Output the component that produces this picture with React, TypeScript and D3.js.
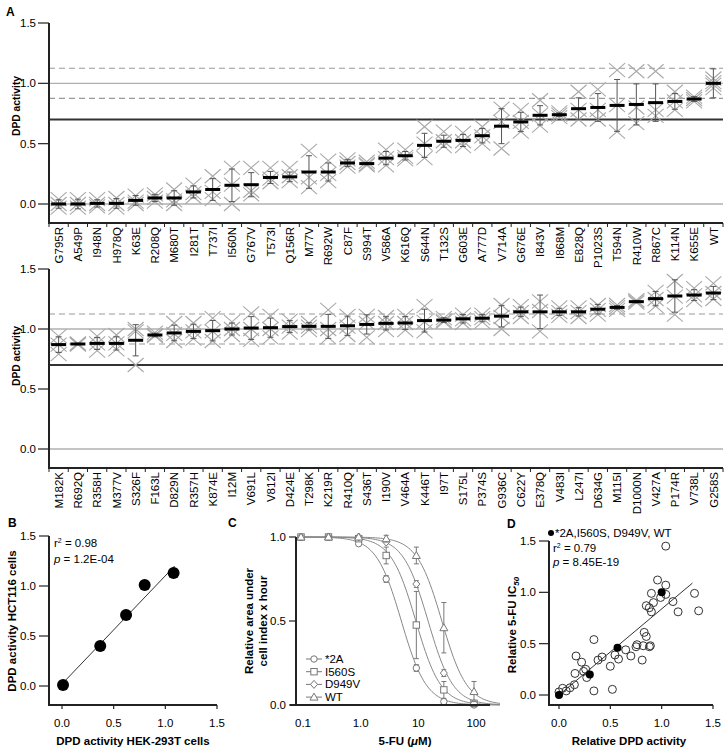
import React from 'react';
import * as d3 from 'd3';

// ---------- Panel A data ----------
const catsTop = ['G795R','A549P','I948N','H978Q','K63E','R208Q','M680T','I281T','T737I','I560N','G767V','T573I','Q156R','M77V','R692W','C87F','S994T','V586A','K616Q','S644N','T132S','G603E','A777D','V714A','G676E','I843V','I868M','E828Q','P1023S','T594N','R410W','R867C','K114N','K655E','WT'];
const meanTop = [0.0,0.0,0.005,0.005,0.03,0.05,0.05,0.10,0.12,0.155,0.16,0.22,0.225,0.265,0.265,0.34,0.335,0.38,0.40,0.486,0.52,0.527,0.566,0.645,0.68,0.735,0.74,0.79,0.80,0.817,0.825,0.84,0.85,0.87,1.0];
const sdTop = [0.035,0.04,0.03,0.04,0.04,0.03,0.06,0.05,0.09,0.135,0.1,0.05,0.04,0.135,0.075,0.03,0.01,0.055,0.035,0.1,0.05,0.05,0.06,0.145,0.08,0.08,0.015,0.09,0.115,0.215,0.17,0.155,0.065,0.02,0.12];
const repsTop = [
  [-0.03,0.0,0.04],[-0.03,0.0,0.04],[-0.02,0.0,0.04],[-0.03,0.0,0.05],[0.0,0.02,0.07],
  [0.02,0.05,0.08],[0.0,0.03,0.12],[0.06,0.09,0.16],[0.04,0.1,0.23],[0.0,0.16,0.3],
  [0.08,0.11,0.3],[0.18,0.21,0.3],[0.19,0.23,0.3],[0.14,0.22,0.44],[0.19,0.25,0.36],
  [0.31,0.34,0.37],[0.32,0.33,0.35],[0.32,0.38,0.45],[0.37,0.39,0.45],[0.38,0.5,0.64],
  [0.48,0.52,0.6],[0.48,0.52,0.59],[0.5,0.56,0.64],[0.46,0.68,0.79],[0.6,0.68,0.78],
  [0.65,0.74,0.86],[0.72,0.74,0.76],[0.7,0.78,0.93],[0.7,0.78,0.95],[0.6,0.82,1.11],
  [0.67,0.8,1.1],[0.73,0.78,1.1],[0.78,0.85,0.93],[0.85,0.87,0.89],[0.96,0.99,1.01,1.04]
];

const catsBot = ['M182K','R692Q','R358H','M377V','S326F','F163L','D829N','R357H','K874E','I12M','V691L','V812I','D424E','T298K','K219R','R410Q','S436T','I190V','V464A','K446T','I97T','S175L','P374S','G936C','C622Y','E378Q','V483I','L247I','D634G','M115I','D1000N','V427A','P174R','V738L','G258S'];
const meanBot = [0.87,0.875,0.88,0.88,0.906,0.95,0.967,0.98,0.986,1.0,1.008,1.011,1.02,1.022,1.022,1.027,1.038,1.047,1.05,1.07,1.074,1.085,1.09,1.107,1.143,1.143,1.143,1.143,1.165,1.18,1.228,1.253,1.275,1.283,1.30];
const sdBot = [0.065,0.005,0.05,0.055,0.13,0.015,0.065,0.06,0.085,0.05,0.095,0.08,0.05,0.03,0.1,0.08,0.08,0.055,0.055,0.095,0.02,0.035,0.03,0.09,0.04,0.14,0.03,0.035,0.04,0.015,0.01,0.06,0.135,0.045,0.055];
const repsBot = [
  [0.79,0.87,0.94],[0.87,0.875,0.88],[0.82,0.88,0.94],[0.83,0.88,0.95],[0.7,0.98,1.0],
  [0.94,0.95,0.97],[0.9,0.96,1.05],[0.92,0.98,1.05],[0.9,0.98,1.09],[0.95,1.0,1.06],
  [0.91,1.0,1.13],[0.93,1.0,1.11],[0.97,1.02,1.07],[0.99,1.02,1.05],[0.93,1.0,1.16],
  [0.95,1.02,1.11],[0.93,1.05,1.11],[0.99,1.05,1.1],[0.99,1.05,1.11],[0.98,1.06,1.19],
  [1.06,1.07,1.09],[1.05,1.08,1.12],[1.06,1.09,1.12],[1.0,1.1,1.2],[1.1,1.14,1.19],
  [0.98,1.15,1.23],[1.11,1.14,1.18],[1.1,1.14,1.18],[1.12,1.16,1.2],[1.16,1.18,1.2],
  [1.22,1.23,1.24],[1.19,1.25,1.31],[1.12,1.27,1.4],[1.24,1.28,1.34],[1.25,1.3,1.38]
];

const yTicksA = [0, 0.5, 1.0, 1.5];
const refDashed = [0.875, 1.125];
const refGrey = [0.0, 1.0];
const refCutoff = [0.7];

// ---------- Panel B data ----------
const bX = [0.01, 0.37, 0.62, 0.80, 1.08];
const bY = [0.01, 0.40, 0.71, 1.01, 1.13];
const bFitX = [0.0, 1.09];
const bFitY = [0.02, 1.2];
const bTicks = [0, 0.5, 1.0, 1.5];

// ---------- Panel C data ----------
const cConc = [0.1, 0.3, 1, 3, 10, 30, 100];
const cNames = ['*2A', 'I560S', 'D949V', 'WT'];
const c2A = [1.0, 1.0, 0.96, 0.75, 0.22, 0.02, 0.0];
const cI560S = [1.0, 1.0, 0.99, 0.89, 0.476, 0.09, 0.01];
const cD949V = [1.0, 1.0, 1.0, 0.97, 0.72, 0.19, 0.01];
const cWT = [1.0, 1.0, 1.0, 0.99, 0.89, 0.46, 0.08];
const e2A = [0, 0, 0.01, 0.02, 0.02, 0.01, 0];
const eI560S = [0, 0, 0, 0.05, 0.2, 0.05, 0.01];
const eD949V = [0, 0, 0, 0.01, 0.02, 0.02, 0.01];
const eWT = [0, 0, 0, 0.02, 0.05, 0.15, 0.06];
const cIC50 = [5.5, 9.8, 16, 27.7];
const cHill = [2, 2, 2, 2];
const cXTicks = [0.1, 1, 10, 100];
const cXTickLabels = ['0.1', '1.0', '10', '100'];
const cYTicks = [0, 0.5, 1.0];

// ---------- Panel D data ----------
const dOpenX = [0.0,0.035,0.07,0.107,0.15,0.166,0.156,0.22,0.24,0.26,0.27,0.34,0.34,0.38,0.42,0.50,0.52,0.545,0.58,0.65,0.70,0.75,0.76,0.81,0.82,0.83,0.85,0.88,0.89,0.85,0.88,0.90,0.90,0.92,0.96,0.99,1.04,1.04,1.11,1.16,1.32,1.36,1.04];
const dOpenY = [0.03,0.065,0.04,0.07,0.10,0.38,0.21,0.32,0.23,0.25,0.17,0.54,0.04,0.34,0.37,0.28,0.055,0.39,0.35,0.44,0.38,0.47,0.49,0.34,0.48,0.61,0.57,0.47,0.48,0.87,0.85,0.99,0.81,0.90,1.12,0.95,1.07,0.98,0.91,0.81,0.99,0.82,1.45];
const dFilledX = [0.0, 0.30, 0.57, 1.0];
const dFilledY = [0.0, 0.20, 0.46, 1.0];
const dFitX = [0.0, 1.3];
const dFitY = [0.0, 1.09];
const dTicks = [0, 0.5, 1.0, 1.5];

const FONT = '"Liberation Sans", Arial, Helvetica, sans-serif';
const fmt = d3.format('.1f');
const FS = 11.5;

function ActivityPanel({ cats, means, sds, reps, top, zeroY, axisY, labelY }: any) {
  const x = d3.scaleBand().domain(cats).range([49, 723]);
  const y = d3.scaleLinear().domain([0, 1.5]).range([zeroY, top]);
  const bw = x.bandwidth();
  return (
    <g>
      {refGrey.map((v) => (
        <line key={'g' + v} x1={49} x2={723} y1={y(v)} y2={y(v)} stroke="#b0b0b0" strokeWidth={1.3} />
      ))}
      {refDashed.map((v) => (
        <line key={'d' + v} x1={49} x2={723} y1={y(v)} y2={y(v)} stroke="#999" strokeWidth={1.2} strokeDasharray="6,4" />
      ))}
      {refCutoff.map((v) => (
        <line key={'c' + v} x1={49} x2={723} y1={y(v)} y2={y(v)} stroke="#333" strokeWidth={2} />
      ))}
      {cats.map((c: string, i: number) => {
        const cx = (x(c) as number) + bw / 2;
        return (
          <g key={c}>
            {reps[i].map((r: number, j: number) => (
              <path key={j} d={`M${cx - 8},${y(r) - 7}L${cx + 8},${y(r) + 7}M${cx - 8},${y(r) + 7}L${cx + 8},${y(r) - 7}`} stroke="#a8a8a8" strokeWidth={1.1} fill="none" />
            ))}
            <line x1={cx} x2={cx} y1={y(means[i] - sds[i])} y2={y(means[i] + sds[i])} stroke="#555" strokeWidth={1} />
            <line x1={cx - 3} x2={cx + 3} y1={y(means[i] - sds[i])} y2={y(means[i] - sds[i])} stroke="#555" strokeWidth={1} />
            <line x1={cx - 3} x2={cx + 3} y1={y(means[i] + sds[i])} y2={y(means[i] + sds[i])} stroke="#555" strokeWidth={1} />
            <line x1={cx - 7.5} x2={cx + 7.5} y1={y(means[i])} y2={y(means[i])} stroke="#000" strokeWidth={3} />
            <text transform={`translate(${cx + 4.2},${axisY + 4}) rotate(-90)`} textAnchor="end" fontSize={FS} fontFamily={FONT}>{c}</text>
          </g>
        );
      })}
      {cats.map((c: string) => (
        <line key={'t' + c} x1={x(c) as number} x2={x(c) as number} y1={axisY} y2={axisY + 4} stroke="#222" strokeWidth={1} />
      ))}
      <line x1={723} x2={723} y1={axisY} y2={axisY + 4} stroke="#222" strokeWidth={1} />
      <line x1={49} x2={49} y1={top} y2={axisY} stroke="#222" strokeWidth={2} />
      <line x1={48} x2={723} y1={axisY} y2={axisY} stroke="#222" strokeWidth={2} />
      {yTicksA.map((v) => (
        <g key={'y' + v}>
          <line x1={38} x2={49} y1={y(v)} y2={y(v)} stroke="#222" strokeWidth={1.2} />
          <text x={36} y={y(v) + 4} textAnchor="end" fontSize={FS} fontFamily={FONT}>{fmt(v)}</text>
        </g>
      ))}
      <text transform={`translate(20,${labelY}) rotate(-90)`} textAnchor="middle" fontSize={10.3} fontWeight="bold" fontFamily={FONT}>DPD activity</text>
    </g>
  );
}

function PanelB() {
  const x = d3.scaleLinear().domain([0, 1.5]).range([62, 217]);
  const y = d3.scaleLinear().domain([0, 1.5]).range([686, 536]);
  return (
    <g>
      <text x={8} y={527} fontSize={12} fontWeight="bold" fontFamily={FONT}>B</text>
      <line x1={49} x2={49} y1={536} y2={705} stroke="#222" strokeWidth={2} />
      <line x1={48} x2={217} y1={705} y2={705} stroke="#222" strokeWidth={2} />
      {bTicks.map((v) => (
        <g key={'by' + v}>
          <line x1={39} x2={49} y1={y(v)} y2={y(v)} stroke="#222" strokeWidth={1.2} />
          <text x={36} y={y(v) + 4} textAnchor="end" fontSize={FS} fontFamily={FONT}>{fmt(v)}</text>
          <line x1={x(v)} x2={x(v)} y1={705} y2={709} stroke="#222" strokeWidth={1.2} />
          <text x={x(v)} y={727} textAnchor="middle" fontSize={FS} fontFamily={FONT}>{fmt(v)}</text>
        </g>
      ))}
      <line x1={x(bFitX[0])} y1={y(bFitY[0])} x2={x(bFitX[1])} y2={y(bFitY[1])} stroke="#333" strokeWidth={1} />
      {bX.map((v, i) => (
        <circle key={i} cx={x(v)} cy={y(bY[i])} r={6} fill="#000" />
      ))}
      <text x={54} y={547} fontSize={FS} fontFamily={FONT}>r<tspan dy={-4} fontSize={7}>2</tspan><tspan dy={4}> = 0.98</tspan></text>
      <text x={54} y={563} fontSize={FS} fontFamily={FONT}><tspan fontStyle="italic">p</tspan> = 1.2E-04</text>
      <text x={133} y={745} textAnchor="middle" fontSize={11.5} fontWeight="bold" fontFamily={FONT}>DPD activity HEK-293T cells</text>
      <text transform="translate(16,621) rotate(-90)" textAnchor="middle" fontSize={11.5} fontWeight="bold" fontFamily={FONT}>DPD activity HCT116 cells</text>
    </g>
  );
}

function Marker({ kind, cx, cy }: any) {
  const st = { fill: '#fff', stroke: '#777', strokeWidth: 1 };
  if (kind === 0) return <circle cx={cx} cy={cy} r={3.2} {...st} />;
  if (kind === 1) return <rect x={cx - 3.2} y={cy - 3.2} width={6.4} height={6.4} {...st} />;
  if (kind === 2) return <path d={`M${cx},${cy - 4}L${cx + 3.5},${cy}L${cx},${cy + 4}L${cx - 3.5},${cy}Z`} {...st} />;
  return <path d={`M${cx},${cy - 4}L${cx + 4},${cy + 3}L${cx - 4},${cy + 3}Z`} {...st} />;
}

function PanelC() {
  const x = d3.scaleLog().domain([0.1, 100]).range([301, 474]);
  const y = d3.scaleLinear().domain([0, 1]).range([705, 537]);
  const series = [c2A, cI560S, cD949V, cWT];
  const errs = [e2A, eI560S, eD949V, eWT];
  const xs = d3.range(0, 121).map((i) => Math.pow(10, -1 + (i / 120) * 3.45));
  return (
    <g>
      <text x={228} y={527} fontSize={12} fontWeight="bold" fontFamily={FONT}>C</text>
      {series.map((s, k) => {
        const curve = d3.line<number>().x((d) => x(d)).y((d) => y(1 / (1 + Math.pow(d / cIC50[k], cHill[k]))))(xs);
        return <path key={'cv' + k} d={curve as string} fill="none" stroke="#888" strokeWidth={1} />;
      })}
      {series.map((s, k) => (
        <g key={'s' + k}>
          {s.map((v, i) => errs[k][i] > 0.015 ? (
            <g key={i}>
              <line x1={x(cConc[i])} x2={x(cConc[i])} y1={y(v - errs[k][i])} y2={y(v + errs[k][i])} stroke="#777" strokeWidth={1} />
              <line x1={x(cConc[i]) - 2.5} x2={x(cConc[i]) + 2.5} y1={y(v - errs[k][i])} y2={y(v - errs[k][i])} stroke="#777" strokeWidth={1} />
              <line x1={x(cConc[i]) - 2.5} x2={x(cConc[i]) + 2.5} y1={y(v + errs[k][i])} y2={y(v + errs[k][i])} stroke="#777" strokeWidth={1} />
            </g>
          ) : null)}
          {s.map((v, i) => <Marker key={'m' + i} kind={k} cx={x(cConc[i])} cy={y(v)} />)}
        </g>
      ))}
      <line x1={296} x2={296} y1={537} y2={705} stroke="#222" strokeWidth={2} />
      <line x1={290} x2={490} y1={705} y2={705} stroke="#222" strokeWidth={2} />
      {cYTicks.map((v) => (
        <g key={'cy' + v}>
          <line x1={289} x2={296} y1={y(v)} y2={y(v)} stroke="#222" strokeWidth={1.2} />
          <text x={286} y={y(v) + 4} textAnchor="end" fontSize={FS} fontFamily={FONT}>{fmt(v)}</text>
        </g>
      ))}
      {cXTicks.map((v, i) => (
        <text key={'cx' + v} x={x(v) + 2} y={727} textAnchor="middle" fontSize={FS} fontFamily={FONT}>{cXTickLabels[i]}</text>
      ))}
      <text x={405} y={745} textAnchor="middle" fontSize={11.5} fontWeight="bold" fontFamily={FONT}>5-FU (<tspan fontStyle="italic">μ</tspan>M)</text>
      <text transform="translate(253,621) rotate(-90)" textAnchor="middle" fontSize={11.5} fontWeight="bold" fontFamily={FONT}>Relative area under</text>
      <text transform="translate(267,621) rotate(-90)" textAnchor="middle" fontSize={11.5} fontWeight="bold" fontFamily={FONT}>cell index x hour</text>
      {cNames.map((n, k) => {
        const ly = 659 + k * 12.7;
        return (
          <g key={n}>
            <line x1={306} x2={322} y1={ly} y2={ly} stroke="#777" strokeWidth={1} />
            <Marker kind={k} cx={314} cy={ly} />
            <text x={325} y={ly + 4} fontSize={FS} fontFamily={FONT}>{n}</text>
          </g>
        );
      })}
    </g>
  );
}

function PanelD() {
  const x = d3.scaleLinear().domain([0, 1.5]).range([559, 713]);
  const y = d3.scaleLinear().domain([0, 1.5]).range([695, 541]);
  return (
    <g>
      <text x={507} y={528} fontSize={12} fontWeight="bold" fontFamily={FONT}>D</text>
      <line x1={549} x2={549} y1={541} y2={705} stroke="#222" strokeWidth={2} />
      <line x1={548} x2={713} y1={705} y2={705} stroke="#222" strokeWidth={2} />
      {dTicks.map((v) => (
        <g key={'d' + v}>
          <line x1={539} x2={549} y1={y(v)} y2={y(v)} stroke="#222" strokeWidth={1.2} />
          <text x={536} y={y(v) + 4} textAnchor="end" fontSize={FS} fontFamily={FONT}>{fmt(v)}</text>
          <line x1={x(v)} x2={x(v)} y1={705} y2={709} stroke="#222" strokeWidth={1.2} />
          <text x={x(v)} y={727} textAnchor="middle" fontSize={FS} fontFamily={FONT}>{fmt(v)}</text>
        </g>
      ))}
      <line x1={x(dFitX[0])} y1={y(dFitY[0])} x2={x(dFitX[1])} y2={y(dFitY[1])} stroke="#333" strokeWidth={1} />
      {dOpenX.map((v, i) => (
        <circle key={'o' + i} cx={x(v)} cy={y(dOpenY[i])} r={4} fill="none" stroke="#333" strokeWidth={1} />
      ))}
      {dFilledX.map((v, i) => (
        <circle key={'f' + i} cx={x(v)} cy={y(dFilledY[i])} r={4} fill="#000" />
      ))}
      <circle cx={551} cy={533} r={3} fill="#000" />
      <text x={555} y={537} fontSize={FS} fontFamily={FONT}>*2A,I560S, D949V, WT</text>
      <text x={553} y={552} fontSize={FS} fontFamily={FONT}>r<tspan dy={-4} fontSize={7}>2</tspan><tspan dy={4}> = 0.79</tspan></text>
      <text x={553} y={566} fontSize={FS} fontFamily={FONT}><tspan fontStyle="italic">p</tspan> = 8.45E-19</text>
      <text x={629} y={745} textAnchor="middle" fontSize={11.5} fontWeight="bold" fontFamily={FONT}>Relative DPD activity</text>
      <text transform="translate(516,625) rotate(-90)" textAnchor="middle" fontSize={11.5} fontWeight="bold" fontFamily={FONT}>Relative 5-FU IC<tspan dy={3} fontSize={8} fontStyle="italic">50</tspan></text>
    </g>
  );
}

export default function App() {
  return (
    <svg width={728} height={750} style={{ position: 'absolute', left: 0, top: 0, background: '#fff' }}>
      <rect width={728} height={750} fill="#fff" />
      <text x={6} y={16} fontSize={12} fontWeight="bold" fontFamily={FONT}>A</text>
      <ActivityPanel cats={catsTop} means={meanTop} sds={sdTop} reps={repsTop} top={23} zeroY={204} axisY={223} labelY={106} />
      <ActivityPanel cats={catsBot} means={meanBot} sds={sdBot} reps={repsBot} top={269} zeroY={449} axisY={468} labelY={356} />
      <PanelB />
      <PanelC />
      <PanelD />
    </svg>
  );
}
